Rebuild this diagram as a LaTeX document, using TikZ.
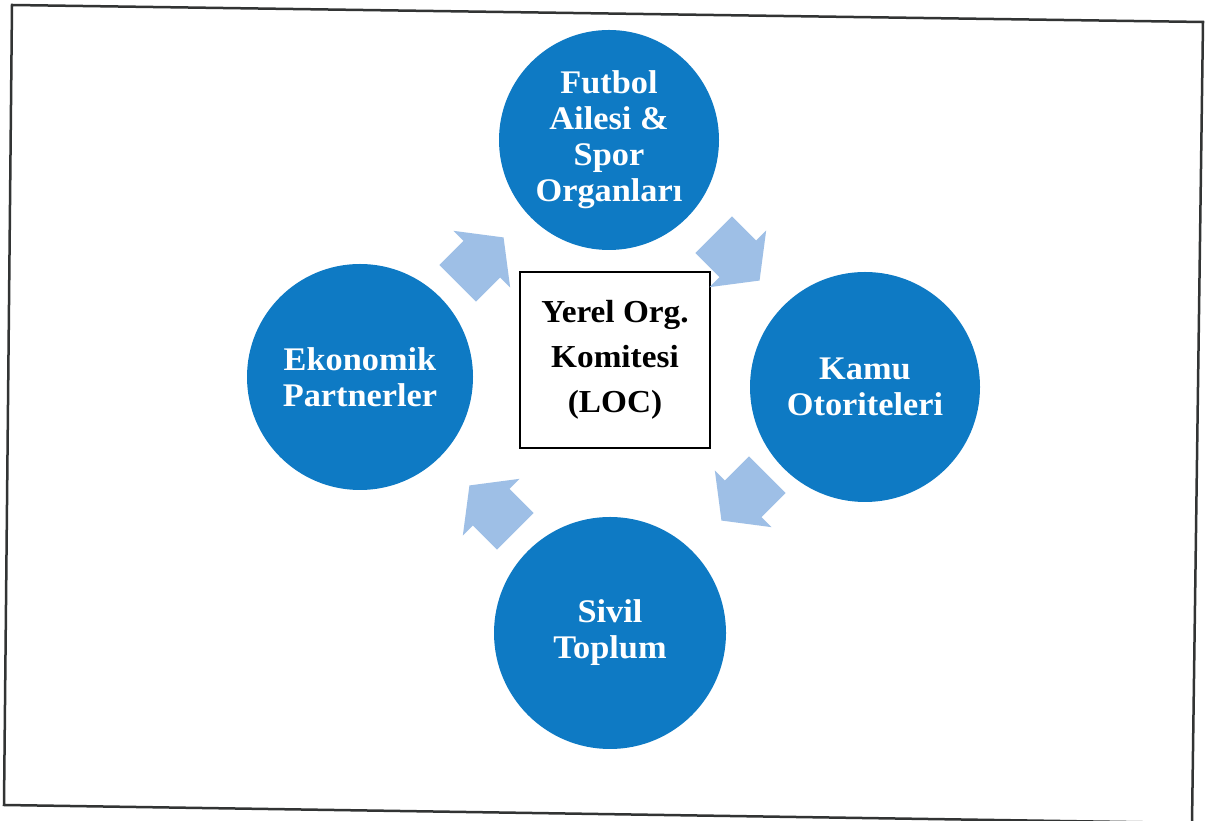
\documentclass[tikz,border=0pt]{standalone}
\usepackage{fontspec}
\setmainfont{Liberation Serif}[FakeStretch=1.04]
\definecolor{circblue}{RGB}{14,122,196}
\definecolor{arrblue}{RGB}{158,191,230}
\definecolor{framegray}{RGB}{50,52,52}
\begin{document}
\begin{tikzpicture}[x=1pt,y=1pt,
  party/.style={circle, fill=circblue, text=white, font=\fontsize{33}{36}\selectfont\bfseries, align=center, inner sep=0pt},
  locbox/.style={draw=black, line width=2pt, fill=white, font=\fontsize{32}{45}\selectfont\bfseries, align=center, minimum width=190pt, minimum height=176pt, inner sep=0pt},
  blockarrow/.style={fill=arrblue, draw=none}]
\useasboundingbox (0,0) rectangle (1207,821);
\fill[white] (0,0) rectangle (1207,821);
\draw[framegray, line width=2.5pt] (12,816) -- (1203,799) -- (1192,-2) -- (4,16) -- cycle;
\node[party, minimum size=220pt] (top) at (609,681) {Futbol\\Ailesi \&\\Spor\\Organları};
\node[party, minimum size=226pt] (left) at (360,444) {Ekonomik\\Partnerler};
\node[party, minimum size=230pt] (right) at (865,434) {Kamu\\Otoriteleri};
\node[party, minimum size=232pt] (bottom) at (610,188) {Sivil\\Toplum};
\node[locbox] (loc) at (615,461) {Yerel Org.\\Komitesi\\(LOC)};
\foreach \cx/\cy/\ang in {481/561/45, 737/563/-45, 744/323/-135, 492/313/135}{
  \fill[blockarrow, shift={(\cx,\cy)}, rotate=\ang, scale=1.1]
    (-30,-23.5) -- (1,-23.5) -- (1,-36.5) -- (29,0) -- (1,36.5) -- (1,23.5) -- (-30,23.5) -- cycle;
}
\end{tikzpicture}
\end{document}
